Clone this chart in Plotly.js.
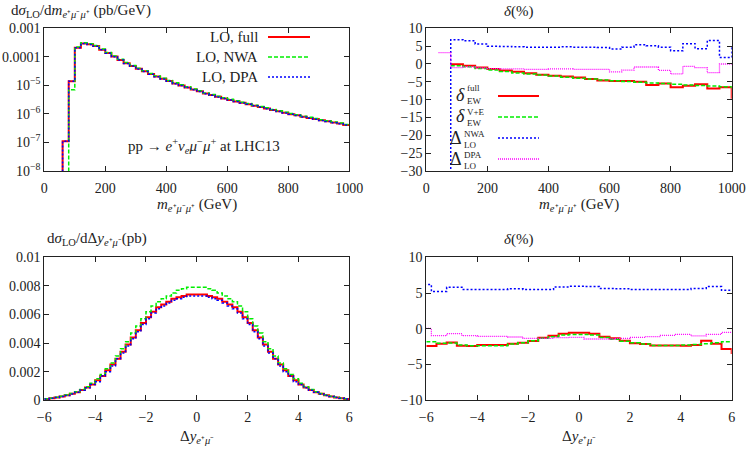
<!DOCTYPE html>
<html><head><meta charset="utf-8">
<script src="https://cdn.plot.ly/plotly-3.0.1.min.js"></script>
<style>html,body{margin:0;padding:0;background:#fff}#chart{width:747px;height:449px}</style>
</head><body><div id="chart"></div>
<script>
// ---------------- data ----------------
// top-left: dσ/dm (pb/GeV), 20 GeV bins
const massEdges = [0,20,40,60,80,100,120,140,160,180,200,220,240,260,280,300,320,340,360,380,400,420,440,460,480,500,520,540,560,580,600,620,640,660,680,700,720,740,760,780,800,820,840,860,880,900,920,940,960,980,1000];
const massLOfull = [0,0,0,1.1e-7,1.4e-5,2.1e-4,2.95e-4,2.75e-4,2.4e-4,1.78e-4,1.35e-4,1.02e-4,7.8e-5,6.0e-5,4.8e-5,3.8e-5,3.1e-5,2.5e-5,2.04e-5,1.7e-5,1.41e-5,1.17e-5,1.0e-5,8.5e-6,7.2e-6,6.2e-6,5.2e-6,4.6e-6,4.0e-6,3.5e-6,3.1e-6,2.75e-6,2.45e-6,2.19e-6,1.95e-6,1.74e-6,1.55e-6,1.38e-6,1.23e-6,1.10e-6,9.8e-7,8.9e-7,7.9e-7,7.2e-7,6.6e-7,6.0e-7,5.5e-7,5.0e-7,4.6e-7,4.1e-7];
const massLONWA = [0,0,0,0,7e-6,2.2e-4,3.1e-4,2.9e-4,2.5e-4,1.87e-4,1.42e-4,1.07e-4,8.2e-5,6.3e-5,5.0e-5,4.0e-5,3.25e-5,2.6e-5,2.14e-5,1.78e-5,1.48e-5,1.23e-5,1.05e-5,8.9e-6,7.5e-6,6.5e-6,5.45e-6,4.8e-6,4.2e-6,3.65e-6,3.25e-6,2.87e-6,2.55e-6,2.3e-6,2.03e-6,1.83e-6,1.63e-6,1.44e-6,1.29e-6,1.15e-6,1.03e-6,9.3e-7,8.3e-7,7.6e-7,6.9e-7,6.3e-7,5.8e-7,5.2e-7,4.8e-7,4.3e-7];
const massLODPA = [0,0,0,1.1e-7,1.4e-5,2.08e-4,2.92e-4,2.72e-4,2.37e-4,1.76e-4,1.33e-4,1.0e-4,7.7e-5,5.9e-5,4.73e-5,3.75e-5,3.05e-5,2.46e-5,2.01e-5,1.67e-5,1.39e-5,1.15e-5,9.85e-6,8.4e-6,7.1e-6,6.1e-6,5.1e-6,4.53e-6,3.94e-6,3.45e-6,3.05e-6,2.71e-6,2.41e-6,2.16e-6,1.92e-6,1.71e-6,1.53e-6,1.36e-6,1.21e-6,1.08e-6,9.65e-7,8.75e-7,7.8e-7,7.1e-7,6.5e-7,5.9e-7,5.4e-7,4.9e-7,4.5e-7,4.05e-7];
const logTickVals = [1e-8,1e-7,1e-6,1e-5,1e-4,1e-3];
const logTickText = ['10<sup>−8</sup>','10<sup>−7</sup>','10<sup>−6</sup>','10<sup>−5</sup>','0.0001','0.001'];

// top-right: δ(%) vs m, 40 GeV bins
const ratioMassEdges = [40,80,120,160,200,240,280,320,360,400,440,480,520,560,600,640,680,720,760,800,840,880,920,960,1000,1040];
const massDeltaFull = [null,-0.1,-0.5,-1.0,-1.4,-1.8,-2.2,-2.6,-3.0,-3.3,-3.5,-3.8,-4.2,-4.6,-4.8,-4.8,-5.0,-5.9,-5.5,-6.5,-6.1,-5.7,-6.9,-6.5,-9.5];
const massDeltaVE   = [null,-0.5,-0.8,-1.3,-1.7,-2.1,-2.5,-2.8,-3.1,-3.4,-3.7,-4.0,-4.2,-4.5,-4.7,-4.9,-5.1,-5.3,-5.5,-5.7,-5.9,-6.0,-6.2,-6.4,-6.6];
const massDeltaNWA  = [-100,6.8,6.5,5.6,5.0,4.9,4.8,4.7,4.7,4.7,4.8,4.7,4.7,4.6,4.2,4.7,5.4,5.1,4.7,3.7,5.7,4.3,6.6,1.8,4.5];
const massDeltaDPA  = [3.2,-1.0,-0.8,-1.1,-1.3,-1.4,-1.4,-1.5,-1.5,-1.4,-1.4,-1.5,-1.5,-1.5,-2.2,-1.7,-0.85,-0.85,-1.8,-2.8,-0.65,-1.0,-2.4,0.0,0.0];

// bottom-left: dσ/dΔy (pb), 0.2 bins
const dyEdges = [-6,-5.8,-5.6,-5.4,-5.2,-5,-4.8,-4.6,-4.4,-4.2,-4,-3.8,-3.6,-3.4,-3.2,-3,-2.8,-2.6,-2.4,-2.2,-2,-1.8,-1.6,-1.4,-1.2,-1,-0.8,-0.6,-0.4,-0.2,0,0.2,0.4,0.6,0.8,1,1.2,1.4,1.6,1.8,2,2.2,2.4,2.6,2.8,3,3.2,3.4,3.6,3.8,4,4.2,4.4,4.6,4.8,5,5.2,5.4,5.6,5.8,6];
const dyLOfull = [0.00009,0.00014,0.0002,0.00027,0.00035,0.00045,0.00057,0.00072,0.0009,0.0011,0.0014,0.0017,0.0021,0.0025,0.0029,0.0034,0.0039,0.0044,0.0049,0.0054,0.0058,0.0062,0.0065,0.0067,0.0069,0.0071,0.0072,0.0073,0.0074,0.0074,
                  0.0074,0.0074,0.0073,0.0072,0.0071,0.0069,0.0067,0.0065,0.0062,0.0058,0.0054,0.0049,0.0044,0.0039,0.0034,0.0029,0.0025,0.0021,0.0017,0.0014,0.0011,0.0009,0.00072,0.00057,0.00045,0.00035,0.00027,0.0002,0.00014,0.00009];
const dyLONWA = [0.0001,0.00015,0.00021,0.00028,0.00037,0.00047,0.0006,0.00076,0.00095,0.0012,0.0015,0.0018,0.0022,0.0026,0.0031,0.0036,0.0041,0.0047,0.0052,0.0057,0.0062,0.0066,0.0069,0.0071,0.0073,0.0075,0.0077,0.0078,0.0079,0.0079,
                 0.0079,0.0079,0.0078,0.0077,0.0075,0.0073,0.0071,0.0069,0.0066,0.0062,0.0057,0.0052,0.0047,0.0041,0.0036,0.0031,0.0026,0.0022,0.0018,0.0015,0.0012,0.00095,0.00076,0.0006,0.00047,0.00037,0.00028,0.00021,0.00015,0.0001];
const dyLODPA = [0.00009,0.00014,0.00019,0.00026,0.00034,0.00044,0.00056,0.00071,0.00088,0.0011,0.0013,0.0017,0.002,0.0024,0.0029,0.0033,0.0038,0.0043,0.0048,0.0053,0.0057,0.0061,0.0064,0.0066,0.0068,0.007,0.0071,0.0072,0.0073,0.0073,
                 0.0073,0.0073,0.0072,0.0071,0.007,0.0068,0.0066,0.0064,0.0061,0.0057,0.0053,0.0048,0.0043,0.0038,0.0033,0.0029,0.0024,0.002,0.0017,0.0013,0.0011,0.00088,0.00071,0.00056,0.00044,0.00034,0.00026,0.00019,0.00014,0.00009];

// bottom-right: δ(%) vs Δy
const ratioDyEdges = [-6,-5.6,-5.2,-4.8,-4.4,-4,-3.6,-3.2,-2.8,-2.4,-2,-1.6,-1.2,-0.8,-0.4,0,0.4,0.8,1.2,1.6,2,2.4,2.8,3.2,3.6,4,4.4,4.8,5.2,5.6,6,6.4];
const dyDeltaFull = [-2.41,-2.08,-1.9,-2.36,-2.41,-2.27,-2.27,-2.27,-2.08,-1.95,-1.71,-1.24,-0.96,-0.68,-0.54,-0.54,-0.68,-1.1,-1.33,-1.66,-2.03,-2.13,-2.32,-2.32,-2.32,-2.36,-2.27,-1.66,-2.08,-2.83,-3.4];
const dyDeltaVE   = [-1.8,-2.03,-2.0,-2.27,-2.36,-2.36,-2.36,-2.36,-2.13,-1.95,-1.66,-1.33,-1.1,-0.87,-0.78,-0.78,-0.87,-1.2,-1.47,-1.75,-1.95,-2.13,-2.32,-2.32,-2.32,-2.27,-2.2,-2.08,-1.95,-1.8,-1.8];
const ratioDyEdgesLO = [-6.4,-5.8,-5.2,-4.6,-4.0,-3.4,-2.8,-2.2,-1.6,-1.0,-0.4,0.2,0.8,1.4,2.0,2.6,3.2,3.8,4.4,5.0,5.6,6.2];
const dyDeltaNWA = [6.2,5.2,5.8,5.5,5.5,5.5,5.6,5.5,5.5,5.85,5.95,5.9,5.65,5.6,5.5,5.5,5.5,5.5,5.65,5.9,5.4];
const dyDeltaDPA = [0.05,-0.96,-0.68,-0.96,-1.05,-1.05,-1.15,-1.33,-1.33,-1.24,-1.2,-1.43,-1.43,-1.33,-1.2,-1.1,-0.92,-0.78,-1.0,-0.78,-0.5];

// ---------------- drawing ----------------
const W = 747, H = 449;
const FONT = 'Liberation Serif';
const TXT = '#222';
const RED = '#ff0000', GREEN = '#00ee00', BLUE = '#0000ff', MAG = '#ff00ff';
const sty = {
  full: {color: RED, width: 2, dash: 'solid'},
  nwa:  {color: GREEN, width: 1.5, dash: '4px,2px'},
  dpa:  {color: BLUE, width: 1.5, dash: '2px,2px'},
  mag:  {color: MAG, width: 1.3, dash: '1px,1px'}
};

function steps(edges, vals, xa, ya, line, logDisplay) {
  let y = vals.slice();
  if (logDisplay) y = y.map(v => (v === null ? null : (v > 0 ? v : 1e-12)));
  y.push(y[y.length - 1]);
  return {x: edges.slice(), y: y, xaxis: xa, yaxis: ya, type: 'scatter', mode: 'lines',
          line: Object.assign({shape: 'hv'}, line), hoverinfo: 'skip', showlegend: false,
          connectgaps: false};
}

const traces = [
  steps(massEdges, massLOfull, 'x', 'y', sty.full, true),
  steps(massEdges, massLONWA, 'x', 'y', sty.nwa, true),
  steps(massEdges, massLODPA, 'x', 'y', sty.dpa, true),
  steps(ratioMassEdges, massDeltaFull, 'x2', 'y2', sty.full),
  steps(ratioMassEdges, massDeltaVE, 'x2', 'y2', sty.nwa),
  steps(ratioMassEdges, massDeltaNWA, 'x2', 'y2', sty.dpa),
  steps(ratioMassEdges, massDeltaDPA, 'x2', 'y2', sty.mag),
  steps(dyEdges, dyLOfull, 'x3', 'y3', sty.full),
  steps(dyEdges, dyLONWA, 'x3', 'y3', sty.nwa),
  steps(dyEdges, dyLODPA, 'x3', 'y3', sty.dpa),
  steps(ratioDyEdges, dyDeltaFull, 'x4', 'y4', sty.full),
  steps(ratioDyEdges, dyDeltaVE, 'x4', 'y4', sty.nwa),
  steps(ratioDyEdgesLO, dyDeltaNWA, 'x4', 'y4', sty.dpa),
  steps(ratioDyEdgesLO, dyDeltaDPA, 'x4', 'y4', sty.mag)
];

const fx = p => p / W, fy = p => 1 - p / H;
function axis(extra) {
  return Object.assign({
    showline: true, mirror: 'allticks', linecolor: TXT, linewidth: 1,
    ticks: 'inside', ticklen: 5, tickwidth: 1, tickcolor: TXT,
    showgrid: false, zeroline: false, fixedrange: true,
    tickfont: {family: FONT, size: 14, color: TXT}
  }, extra);
}
const leftDom = [fx(44.3), fx(349.3)], rightDom = [fx(426.3), fx(731.7)];
const topDom = [fy(171), fy(28.3)], botDom = [fy(400.3), fy(257.3)];

function ann(text, x, y, size, xanchor, extra) {
  return Object.assign({text: text, xref: 'paper', yref: 'paper', x: fx(x), y: fy(y),
    xanchor: xanchor || 'center', yanchor: 'middle', showarrow: false, borderpad: 0,
    font: {family: FONT, size: size, color: TXT}}, extra || {});
}
function seg(x0, x1, y, line) {
  return {type: 'line', xref: 'paper', yref: 'paper', x0: fx(x0), x1: fx(x1), y0: fy(y), y1: fy(y),
          line: {color: line.color, width: line.width, dash: line.dash}};
}

const mSub = '<sub><i>e</i>⁺<i>μ</i>⁻<i>μ</i>⁺</sub>';
const dySub = '<sub><i>e</i>⁺<i>μ</i>⁻</sub>';

const annotations = [
  ann('d<i>σ</i><sub>LO</sub>/d<i>m</i>' + mSub + ' (pb/GeV)', 10, 11, 15, 'left'),
  ann('<i>δ</i>(%)', 518, 11, 15),
  ann('d<i>σ</i><sub>LO</sub>/dΔ<i>y</i>' + dySub + '(pb)', 46, 239, 15, 'left'),
  ann('<i>δ</i>(%)', 518, 239, 15),
  ann('<i>m</i>' + mSub + ' (GeV)', 197, 205, 15),
  ann('<i>m</i>' + mSub + ' (GeV)', 579, 205, 15),
  ann('Δ<i>y</i>' + dySub, 197, 437, 15),
  ann('Δ<i>y</i>' + dySub, 579, 437, 15),
  // top-left legend
  ann('LO, full', 259, 37, 15, 'right'),
  ann('LO, NWA', 259, 57, 15, 'right'),
  ann('LO, DPA', 259, 77, 15, 'right'),
  ann('pp → <i>e</i><sup>+</sup><i>ν</i><sub><i>e</i></sub><i>μ</i><sup>−</sup><i>μ</i><sup>+</sup> at LHC13', 204, 146, 15),
  // top-right legend: symbol + stacked superscript/subscript
  ann('<i>δ</i>', 460, 95, 18),
  ann('full', 466, 88, 9, 'left'),
  ann('EW', 466, 100.5, 9, 'left'),
  ann('<i>δ</i>', 460, 116, 18),
  ann('V+E', 466, 111.5, 9, 'left'),
  ann('EW', 466, 122.5, 9, 'left'),
  ann('Δ', 456, 138, 18),
  ann('NWA', 463, 134, 9, 'left'),
  ann('LO', 463, 144.5, 9, 'left'),
  ann('Δ', 456, 159, 18),
  ann('DPA', 463, 155, 9, 'left'),
  ann('LO', 463, 165.5, 9, 'left')
];

const shapes = [
  seg(268, 310, 37, sty.full), seg(268, 310, 57, sty.nwa), seg(268, 310, 77, sty.dpa),
  seg(498, 539, 96, sty.full), seg(498, 539, 117, sty.nwa), seg(498, 539, 138, sty.dpa), seg(498, 539, 159, sty.mag)
];

const layout = {
  width: W, height: H, margin: {l: 0, r: 0, t: 0, b: 0},
  paper_bgcolor: '#fff', plot_bgcolor: '#fff', showlegend: false,
  font: {family: FONT, color: TXT},
  xaxis:  axis({domain: leftDom, anchor: 'y', range: [0, 1000], dtick: 200, ticklabelstandoff: 4}),
  yaxis:  axis({domain: topDom, anchor: 'x', type: 'log', range: [-8, -3], tickvals: logTickVals, ticktext: logTickText}),
  xaxis2: axis({domain: rightDom, anchor: 'y2', range: [0, 1000], dtick: 200, ticklabelstandoff: 4}),
  yaxis2: axis({domain: topDom, anchor: 'x2', range: [-30, 10], dtick: 5}),
  xaxis3: axis({domain: leftDom, anchor: 'y3', range: [-6, 6], dtick: 2, ticklabelstandoff: 4}),
  yaxis3: axis({domain: botDom, anchor: 'x3', range: [0, 0.01], dtick: 0.002}),
  xaxis4: axis({domain: rightDom, anchor: 'y4', range: [-6, 6], dtick: 2, ticklabelstandoff: 4}),
  yaxis4: axis({domain: botDom, anchor: 'x4', range: [-10, 10], dtick: 5}),
  annotations: annotations,
  shapes: shapes
};

Plotly.newPlot('chart', traces, layout, {staticPlot: true, displayModeBar: false});
</script>
</body></html>
